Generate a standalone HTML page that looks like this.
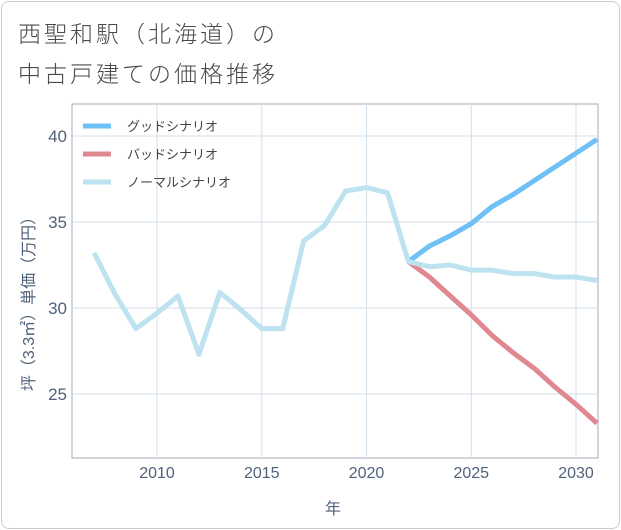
<!DOCTYPE html>
<html><head><meta charset="utf-8"><style>
body{margin:0;background:#fff;font-family:"Liberation Sans","Noto Sans CJK JP",sans-serif}
#wrap{position:relative;width:621px;height:530px}
#frame{position:absolute;left:1px;top:1px;width:617px;height:526px;border:1px solid #ccc;border-radius:8px}
.title{position:absolute;left:18px;font-size:23px;color:#4a4a4a;letter-spacing:3px;font-weight:300}
</style></head><body>
<div id="wrap">
<div id="frame"></div>
<div class="title" style="top:15px">西聖和駅（北海道）の</div>
<div class="title" style="top:55px">中古戸建ての価格推移</div>
<svg id="svg" width="621" height="530" style="position:absolute;left:0;top:0"></svg>
</div>
<script>
const years=[2007,2008,2009,2010,2011,2012,2013,2014,2015,2016,2017,2018,2019,2020,2021,2022];
const normalHist=[33.2,30.8,28.8,29.7,30.7,27.3,30.9,29.9,28.8,28.8,33.9,34.8,36.8,37.0,36.7,32.7];
const futureYears=[2022,2023,2024,2025,2026,2027,2028,2029,2030,2031];
const good=[32.7,33.6,34.2,34.9,35.9,36.6,37.4,38.2,39.0,39.8];
const bad=[32.7,31.8,30.7,29.6,28.4,27.4,26.5,25.4,24.4,23.3];
const normalFut=[32.7,32.4,32.5,32.2,32.2,32.0,32.0,31.8,31.8,31.6];
const xTicks=[2010,2015,2020,2025,2030];
const yTicks=[25,30,35,40];
const L=72,R=598,T=104,B=458;
const x=v=>157+(v-2010)*(576-157)/20;
const y=v=>394-(v-25)*(394-136)/15;
const svg=document.getElementById('svg');const NS='http://www.w3.org/2000/svg';
function mk(t,a,p){const e=document.createElementNS(NS,t);for(const k in a)e.setAttribute(k,a[k]);(p||svg).appendChild(e);return e;}
const bg=mk('rect',{x:L,y:T,width:R-L,height:B-T,fill:'#fff',stroke:'#aab','stroke-width':1});

xTicks.forEach(t=>{const g=mk('line',{x1:x(t),x2:x(t),y1:T,y2:B,stroke:'#d3dfe9'});

const tx=mk('text',{x:x(t),y:478,'text-anchor':'middle','font-size':16,fill:'#50627a'});tx.textContent=t;
});
yTicks.forEach(t=>{const g=mk('line',{x1:L,x2:R,y1:y(t),y2:y(t),stroke:'#d3dfe9'});

const tx=mk('text',{x:67,y:y(t)+6,'text-anchor':'end','font-size':17,fill:'#50627a'});tx.textContent=t;
});
const xt=mk('text',{x:333,y:514,'text-anchor':'middle','font-size':16,fill:'#50627a'});xt.textContent='年';

const yt=mk('text',{x:0,y:0,'text-anchor':'middle','font-size':16,fill:'#50627a',transform:'translate(34,300) rotate(-90)'});yt.textContent='坪（3.3㎡）単価（万円）';

function line(xs,vs,c,name){const p=mk('polyline',{points:xs.map((v,i)=>x(v)+','+y(vs[i])).join(' '),fill:'none',stroke:c,'stroke-width':5,'stroke-linejoin':'round'});
}
line(futureYears,good,'#6ec0f5','good-scenario-line');
line(futureYears,bad,'#e08890','bad-scenario-line');
line(years.concat(futureYears.slice(1)),normalHist.concat(normalFut.slice(1)),'#bde2f0','normal-scenario-line');
const lg=[['グッドシナリオ','#6ec0f5'],['バッドシナリオ','#e08890'],['ノーマルシナリオ','#bde2f0']];
lg.forEach((d,i)=>{const yy=126+i*28;
const s=mk('line',{x1:83,x2:111,y1:yy,y2:yy,stroke:d[1],'stroke-width':5});

const t=mk('text',{x:127,y:yy+5,'font-size':13,fill:'#444'});t.textContent=d[0];
});
</script>
</body></html>
